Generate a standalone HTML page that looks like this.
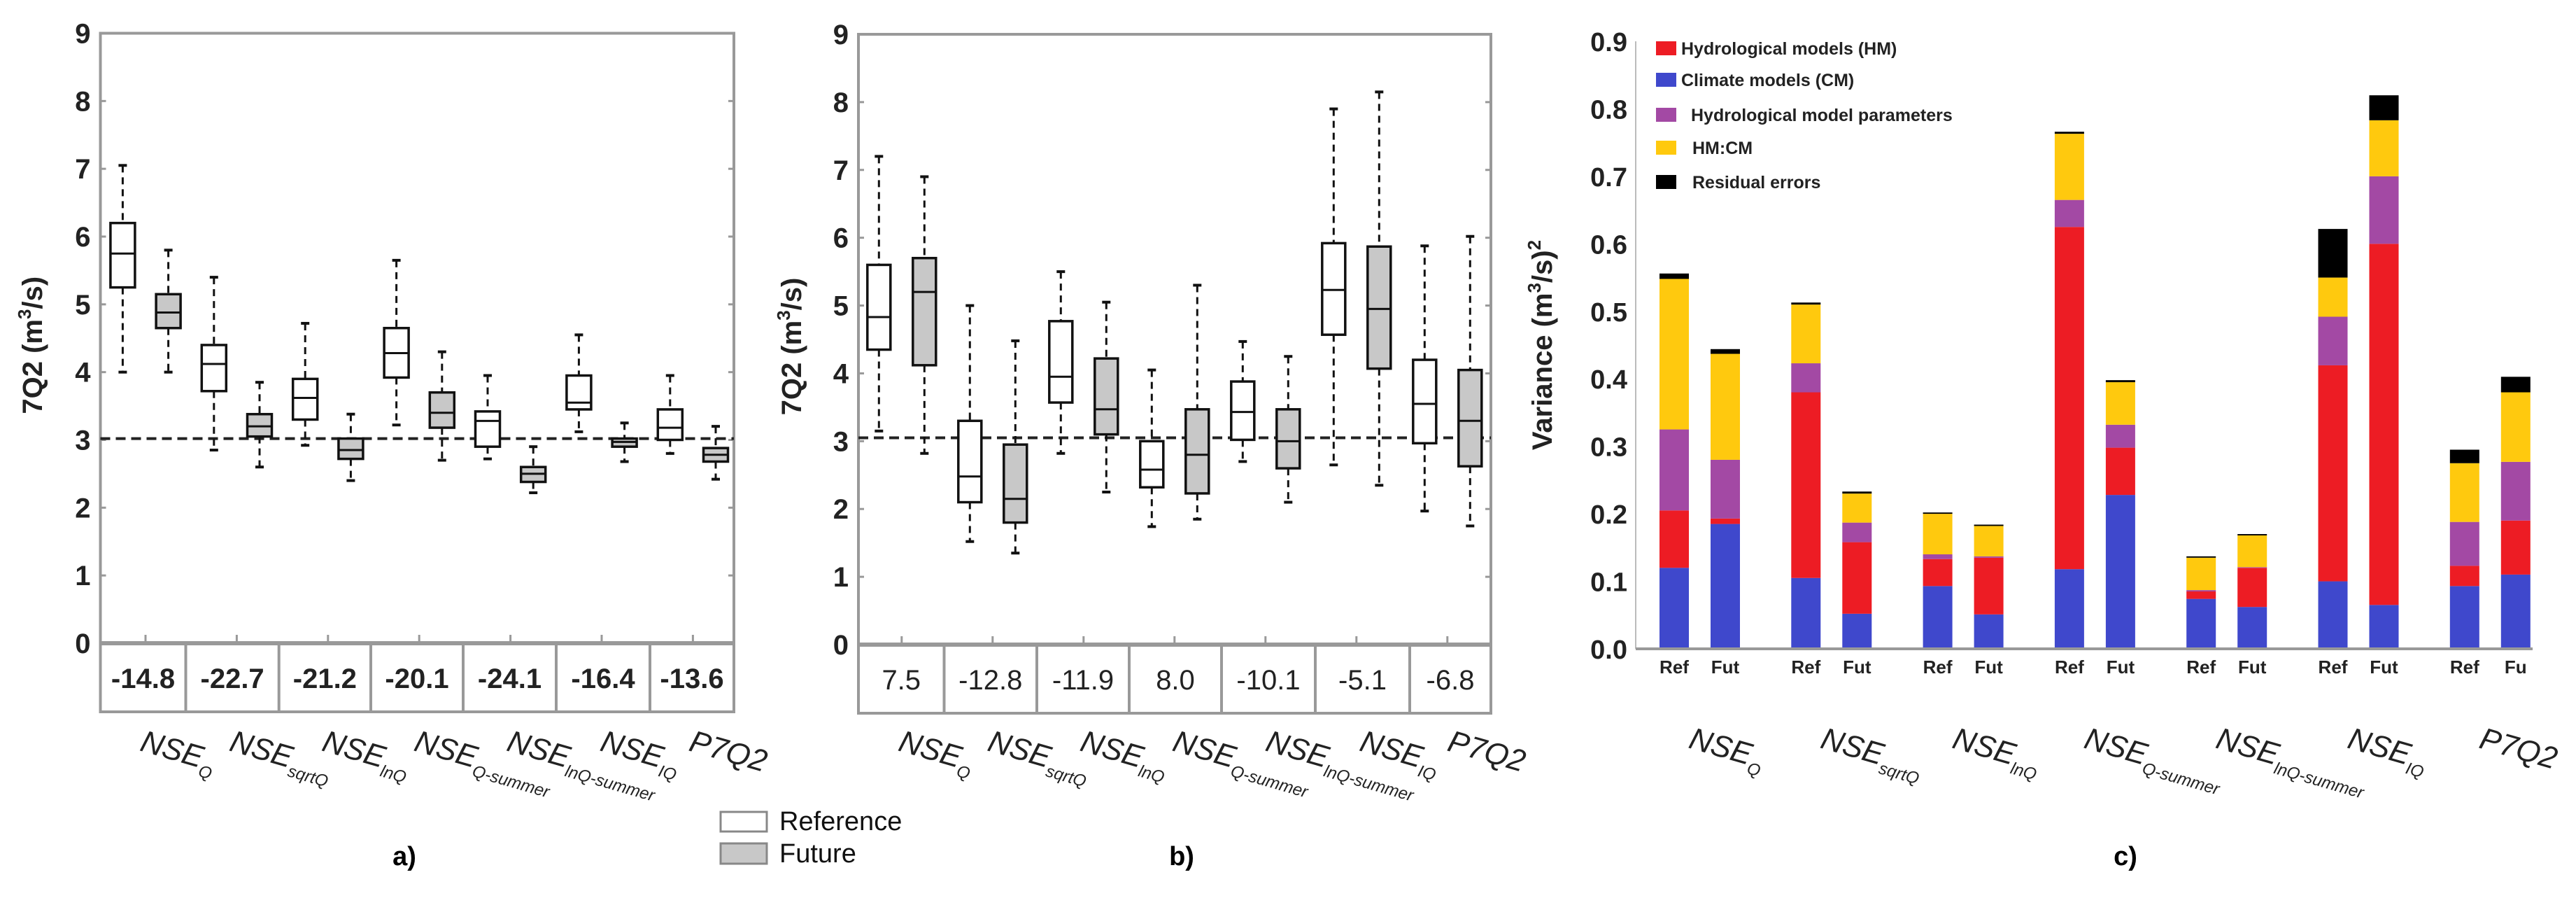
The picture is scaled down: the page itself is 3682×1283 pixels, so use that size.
<!DOCTYPE html>
<html><head><meta charset="utf-8"><style>
html,body{margin:0;padding:0;background:#fff;}
svg{display:block;font-family:"Liberation Sans",Arial,sans-serif;}
</style></head><body>
<svg id="fig" width="3682" height="1283" viewBox="0 0 3682 1283" xmlns="http://www.w3.org/2000/svg">
<g id="pa"></g>
<g id="pb"></g>
<g id="pc"></g>
<g>
  <rect x="1030" y="1160" width="66" height="28" fill="#fff" stroke="#888" stroke-width="3"/>
  <text x="1114" y="1186" font-size="38" fill="#111">Reference</text>
  <rect x="1030" y="1205" width="66" height="29" fill="#c8c8c8" stroke="#888" stroke-width="3"/>
  <text x="1114" y="1232" font-size="38" fill="#111">Future</text>
</g>
<text x="578" y="1236" font-size="38" font-weight="bold" text-anchor="middle">a)</text>
<text x="1689" y="1236" font-size="38" font-weight="bold" text-anchor="middle">b)</text>
<text x="3038" y="1236" font-size="38" font-weight="bold" text-anchor="middle">c)</text>
</svg>
<script>
// ---- Panel a data ----
const aWhiskLo = [4.0,4.0,2.85,2.6,2.92,2.4,3.22,2.7,2.72,2.22,3.12,2.68,2.8,2.42];
const aQ1 = [5.25,4.65,3.72,3.05,3.3,2.72,3.92,3.18,2.9,2.38,3.45,2.9,3.0,2.68];
const aMed = [5.75,4.88,4.12,3.2,3.62,2.85,4.28,3.4,3.28,2.5,3.55,2.97,3.18,2.78];
const aQ3 = [6.2,5.15,4.4,3.38,3.9,3.02,4.65,3.7,3.42,2.6,3.95,3.02,3.45,2.88];
const aWhiskHi = [7.05,5.8,5.4,3.85,4.72,3.38,5.65,4.3,3.95,2.9,4.55,3.25,3.95,3.2];
const aChange = ["-14.8","-22.7","-21.2","-20.1","-24.1","-16.4","-13.6"];
const aRefLine = 3.02;
// ---- Panel b data ----
const bWhiskLo = [3.15,2.82,1.52,1.35,2.82,2.25,1.74,1.85,2.7,2.1,2.65,2.35,1.97,1.75];
const bQ1 = [4.35,4.12,2.1,1.8,3.57,3.1,2.32,2.23,3.02,2.6,4.57,4.07,2.97,2.63];
const bMed = [4.83,5.2,2.48,2.15,3.95,3.47,2.58,2.8,3.43,3.0,5.23,4.95,3.55,3.3];
const bQ3 = [5.6,5.7,3.3,2.95,4.77,4.22,3.0,3.47,3.88,3.47,5.92,5.87,4.2,4.05];
const bWhiskHi = [7.2,6.9,5.0,4.48,5.5,5.05,4.05,5.3,4.47,4.25,7.9,8.15,5.88,6.02];
const bChange = ["7.5","-12.8","-11.9","8.0","-10.1","-5.1","-6.8"];
const bRefLine = 3.05;
const yTicksBox = [0,1,2,3,4,5,6,7,8,9];
// ---- Panel c data ----
const cBlue = [0.12,0.185,0.105,0.052,0.093,0.051,0.118,0.228,0.074,0.062,0.1,0.065,0.093,0.11];
const cRed = [0.085,0.008,0.275,0.106,0.04,0.084,0.507,0.07,0.011,0.058,0.32,0.535,0.03,0.08];
const cPurple = [0.12,0.087,0.043,0.029,0.007,0.002,0.04,0.034,0.002,0.001,0.072,0.1,0.065,0.087];
const cYellow = [0.223,0.157,0.087,0.043,0.06,0.045,0.098,0.063,0.048,0.047,0.058,0.083,0.087,0.103];
const cBlack = [0.008,0.007,0.003,0.003,0.002,0.002,0.003,0.003,0.002,0.002,0.072,0.037,0.02,0.023];
const cBarLabels = ["Ref","Fut","Ref","Fut","Ref","Fut","Ref","Fut","Ref","Fut","Ref","Fut","Ref","Fu"];
const cTicks = ["0.0","0.1","0.2","0.3","0.4","0.5","0.6","0.7","0.8","0.9"];
const catMain = ["NSE","NSE","NSE","NSE","NSE","NSE","P7Q2"];
const catSub = ["Q","sqrtQ","lnQ","Q-summer","lnQ-summer","IQ",""];

const NS="http://www.w3.org/2000/svg";
function mk(parent, tag, attrs){const e=document.createElementNS(NS,tag);for(const k in attrs)e.setAttribute(k,attrs[k]);parent.appendChild(e);return e;}

function boxPanel(g, cfg){
  const {L,R,T,B,TB,x0,dx,bw,lo,q1,med,q3,hi,change,refLine,bold,cols,name}=cfg;
  const y=v=>B-(B-T)*v/9;
  // frame
  let f=mk(g,'rect',{x:L,y:T,width:R-L,height:TB-T,fill:'none',stroke:'#999','stroke-width':4});
  
  
  let ax=mk(g,'line',{x1:L,y1:B,x2:R,y2:B,stroke:'#999','stroke-width':6});
  
  
  yTicksBox.forEach(v=>{
    let t=mk(g,'line',{x1:L,y1:y(v),x2:L+8,y2:y(v),stroke:'#999','stroke-width':3});
    
    
    let t2=mk(g,'line',{x1:R-8,y1:y(v),x2:R,y2:y(v),stroke:'#999','stroke-width':3});
    
    
    let lb=mk(g,'text',{x:L-14,y:y(v)+14,'font-size':40,'font-weight':'bold','text-anchor':'end',fill:'#222'});
    lb.textContent=v;
    
    
  });
  for(let i=1;i<14;i+=2){
    let t=mk(g,'line',{x1:x0+dx*i-dx/2+dx/2,y1:B-12,x2:x0+dx*i,y2:B,stroke:'#999','stroke-width':3});
    t.setAttribute('x1',x0+dx*(i-0.5));t.setAttribute('x2',x0+dx*(i-0.5));
    
    
  }
  // table
  for(let c=1;c<7;c++){
    let d=mk(g,'line',{x1:cols[c],y1:B,x2:cols[c],y2:TB,stroke:'#999','stroke-width':4});
    
    
  }
  change.forEach((s,c)=>{
    let t=mk(g,'text',{x:(cols[c]+cols[c+1])/2,y:(B+TB)/2+15,'font-size':40,'font-weight':bold?'bold':'normal','text-anchor':'middle',fill:'#222'});
    t.textContent=s;
    
    
  });
  // ref line
  let rl=mk(g,'line',{x1:L,y1:y(refLine),x2:R,y2:y(refLine),stroke:'#222','stroke-width':4,'stroke-dasharray':'14 8'});
  
  
  // boxes
  for(let i=0;i<lo.length;i++){
    const cx=x0+dx*i, fut=i%2===1;
    const bg=mk(g,'g',{});
    
    
    mk(bg,'line',{x1:cx,y1:y(hi[i]),x2:cx,y2:y(q3[i]),stroke:'#111','stroke-width':3,'stroke-dasharray':'10 7'});
    mk(bg,'line',{x1:cx,y1:y(q1[i]),x2:cx,y2:y(lo[i]),stroke:'#111','stroke-width':3,'stroke-dasharray':'10 7'});
    mk(bg,'line',{x1:cx-6,y1:y(hi[i]),x2:cx+6,y2:y(hi[i]),stroke:'#111','stroke-width':4});
    mk(bg,'line',{x1:cx-6,y1:y(lo[i]),x2:cx+6,y2:y(lo[i]),stroke:'#111','stroke-width':4});
    mk(bg,'rect',{x:cx-bw/2,y:y(q3[i]),width:bw,height:y(q1[i])-y(q3[i]),fill:fut?'#c8c8c8':'#fff',stroke:'#111','stroke-width':3.5});
    mk(bg,'line',{x1:cx-bw/2,y1:y(med[i]),x2:cx+bw/2,y2:y(med[i]),stroke:'#111','stroke-width':3});
  }
  // y title
  let yt=mk(g,'text',{x:0,y:0,'font-size':40,'font-weight':'bold','text-anchor':'middle',fill:'#222',transform:`translate(${cfg.ytx},${(T+B)/2+10}) rotate(-90)`});
  yt.innerHTML='7Q2 (m<tspan font-size="26" dy="-16">3</tspan><tspan dy="16">/s)</tspan>';
  
  
  // category labels
  for(let c=0;c<7;c++){
    catLabel(g,(cols[c]+cols[c+1])/2-6,1072,c,name);
  }
}
function catLabel(g,x,y,c,name){
  let t=mk(g,'text',{x:0,y:0,'font-size':44,'font-style':'italic',fill:'#222',transform:`translate(${x},${y}) rotate(16)`});
  t.innerHTML=catMain[c]+(catSub[c]?`<tspan font-size="24" dy="12">${catSub[c]}</tspan>`:'');
  
  
}
boxPanel(document.getElementById('pa'),{name:'panel-a',L:143.5,R:1049,T:47.5,B:919,TB:1017,x0:175.4,dx:65.2,bw:35,
  lo:aWhiskLo,q1:aQ1,med:aMed,q3:aQ3,hi:aWhiskHi,change:aChange,refLine:aRefLine,bold:true,
  cols:[143.5,265.5,398.7,530,662,795,929,1049],ytx:60});
boxPanel(document.getElementById('pb'),{name:'panel-b',L:1227,R:2131,T:49,B:921,TB:1019,x0:1256.3,dx:65,bw:33,
  lo:bWhiskLo,q1:bQ1,med:bMed,q3:bQ3,hi:bWhiskHi,change:bChange,refLine:bRefLine,bold:false,
  cols:[1227,1349.5,1482,1614,1746,1880,2015,2131],ytx:1145});

// Panel c
(function(){
  const g=document.getElementById('pc');
  const L=2338,R=3620,B=927,T=59;
  const y=v=>B-(B-T)*v/0.9;
  const gx=i=>2372+188.3*(i>>1)+73*(i%2);
  const bw=42;
  let ya=mk(g,'line',{x1:L,y1:T,x2:L,y2:B,stroke:'#bbb','stroke-width':2});
  
  
  cTicks.forEach((s,k)=>{
    let t=mk(g,'text',{x:L-12,y:y(parseFloat(s))+14,'font-size':38,'font-weight':'bold','text-anchor':'end',fill:'#222'});
    t.textContent=s;
    
    
  });
  const series=[cBlue,cRed,cPurple,cYellow,cBlack];
  const colors=['#3f48cc','#ed1c24','#a349a4','#ffc90e','#000'];
  const snames=['climate-models','hydrological-models','model-parameters','hm-cm','residual'];
  for(let i=0;i<cBlue.length;i++){
    let acc=0;
    series.forEach((s,k)=>{
      const r=mk(g,'rect',{x:gx(i),y:y(acc+s[i]),width:bw,height:y(acc)-y(acc+s[i]),fill:colors[k]});
      
      
      acc+=s[i];
    });
    const lb=mk(g,'text',{x:gx(i)+bw/2,y:962,'font-size':26,'font-weight':'bold','text-anchor':'middle',fill:'#222'});
    lb.textContent=cBarLabels[i];
    
    
  }
  let xa=mk(g,'line',{x1:L,y1:B,x2:R,y2:B,stroke:'#999','stroke-width':4});
  
  
  for(let c=0;c<7;c++) catLabel(g,gx(2*c)+40,1068,c,'panel-c');
  let yt=mk(g,'text',{x:0,y:0,'font-size':40,'font-weight':'bold','text-anchor':'middle',fill:'#222',transform:`translate(2218,${(T+B)/2}) rotate(-90)`});
  yt.innerHTML='Variance (m<tspan font-size="26" dy="-16">3</tspan><tspan dy="16">/s)</tspan><tspan font-size="26" dy="-16">2</tspan>';
  
  
  const leg=[['Hydrological models (HM)','#ed1c24',69,2403],['Climate models (CM)','#3f48cc',114,2403],['Hydrological model parameters','#a349a4',164,2417],['HM:CM','#ffc90e',211,2419],['Residual errors','#000',260,2419]];
  leg.forEach((e,k)=>{
    const sw=mk(g,'rect',{x:2367,y:e[2]-10,width:29,height:20,fill:e[1]});
    
    
    const t=mk(g,'text',{x:e[3],y:e[2]+9,'font-size':25,'font-weight':'bold',fill:'#222'});
    t.textContent=e[0];
    
    
  });
})();
</script>
</body></html>
